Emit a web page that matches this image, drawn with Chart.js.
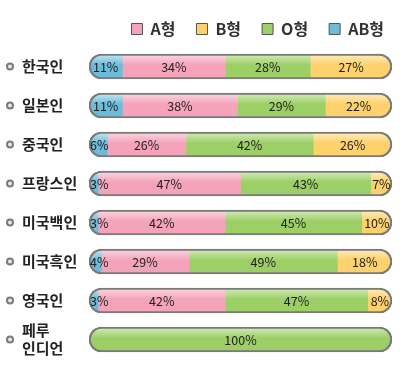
<!DOCTYPE html>
<html>
<head>
<meta charset="utf-8">
<script src="https://cdn.jsdelivr.net/npm/chart.js@4/dist/chart.umd.min.js"></script>
<style>
html, body { margin: 0; padding: 0; background: #fff; }
#wrap { width: 400px; height: 368px; }
</style>
</head>
<body>
<div id="wrap"><canvas id="myChart"></canvas></div>
<script>
var groups = ['한국인', '일본인', '중국인', '프랑스인', '미국백인', '미국흑인', '영국인', ['페루', '인디언']];
var typeAB = [11, 11, 6, 3, 3, 4, 3, 0];
var typeA = [34, 38, 26, 47, 42, 29, 42, 0];
var typeO = [28, 29, 42, 43, 45, 49, 47, 100];
var typeB = [27, 22, 26, 7, 10, 18, 8, 0];
var legendOrder = ['A형', 'B형', 'O형', 'AB형'];

var series = [typeAB, typeA, typeO, typeB];
var track = groups.map(function (g, i) {
    return typeAB[i] + typeA[i] + typeO[i] + typeB[i];
});
var KR = '"Noto Sans CJK KR", "Noto Sans", sans-serif';

// light top -> base colour, a bit of the old glossy look
function shade(base, light) {
    return function (c) {
        var y = c.chart.scales && c.chart.scales.y;
        if (c.type !== 'data' || !y) return base;
        var yc = y.getPixelForValue(c.dataIndex);
        var g = c.chart.ctx.createLinearGradient(0, yc - 12, 0, yc + 12);
        g.addColorStop(0, light);
        g.addColorStop(0.45, base);
        g.addColorStop(1, base);
        return g;
    };
}

function seg(label, data, base, light) {
    return {
        label: label,
        data: data,
        stack: 'seg',
        grouped: false,
        barThickness: 25,
        borderWidth: 0,
        backgroundColor: shade(base, light),
        legendColor: base
    };
}

// clip the segments to the pill shape of the track bars
var pillClip = {
    id: 'pillClip',
    beforeDatasetDraw: function (chart, args) {
        if (args.index > 3) return;
        var ctx = chart.ctx;
        ctx.save();
        ctx.beginPath();
        chart.getDatasetMeta(4).data.forEach(function (bar) {
            var h = bar.height;
            ctx.roundRect(bar.base, bar.y - h / 2, bar.x - bar.base, h, h / 2);
        });
        ctx.clip();
    },
    afterDatasetDraw: function (chart, args) {
        if (args.index > 3) return;
        chart.ctx.restore();
    }
};

var valueLabels = {
    id: 'valueLabels',
    afterDatasetsDraw: function (chart) {
        var ctx = chart.ctx;
        var trackMeta = chart.getDatasetMeta(4);
        ctx.save();
        ctx.font = '12.5px ' + KR;
        ctx.fillStyle = '#222';
        ctx.textAlign = 'center';
        ctx.textBaseline = 'middle';
        for (var s = 0; s < 4; s++) {
            chart.getDatasetMeta(s).data.forEach(function (bar, i) {
                var v = series[s][i];
                if (!v) return;
                var txt = v + '%';
                var w = ctx.measureText(txt).width;
                var t = trackMeta.data[i];
                var cx = (bar.x + bar.base) / 2;
                cx = Math.max(cx, t.base + w / 2 + 1);
                cx = Math.min(cx, t.x - w / 2 - 1);
                ctx.fillText(txt, cx, bar.y + 1);
            });
        }
        ctx.restore();
    }
};

var bullets = {
    id: 'bullets',
    afterDraw: function (chart) {
        var ctx = chart.ctx;
        var y = chart.scales.y;
        ctx.save();
        y.ticks.forEach(function (t, i) {
            var py = y.getPixelForTick(i);
            ctx.beginPath();
            ctx.arc(10, py, 3, 0, Math.PI * 2);
            ctx.fillStyle = '#e8e8e8';
            ctx.fill();
            ctx.lineWidth = 2;
            ctx.strokeStyle = '#7a7a7a';
            ctx.stroke();
        });
        ctx.restore();
    }
};

// legend keeps a trailing gap equal to the item padding; push it right a bit
var legendNudge = {
    id: 'legendNudge',
    afterLayout: function (chart) {
        chart.legend.left += 5;
        chart.legend.right += 5;
    }
};

var ctx = document.getElementById('myChart').getContext('2d');
var chart = new Chart(ctx, {
    type: 'bar',
    data: {
        labels: groups,
        datasets: [
            seg('AB형', typeAB, '#6bbbd9', '#c4e6f2'),
            seg('A형', typeA, '#f4a3ba', '#fbd6e1'),
            seg('O형', typeO, '#9ccf66', '#d2ebb8'),
            seg('B형', typeB, '#fdd16c', '#feecbc'),
            {
                label: 'track',
                data: track,
                stack: 'track',
                grouped: false,
                order: -1,
                barThickness: 25,
                backgroundColor: 'rgba(0,0,0,0)',
                borderColor: '#7a7a7a',
                borderWidth: 1.5,
                borderRadius: 13,
                borderSkipped: false
            }
        ]
    },
    options: {
        indexAxis: 'y',
        responsive: true,
        maintainAspectRatio: false,
        animation: false,
        layout: { padding: { left: 22, right: 0, top: 0, bottom: 6 } },
        scales: {
            x: { display: false, stacked: true, min: 0, max: 100 },
            y: {
                stacked: true,
                grid: { display: false },
                border: { display: false },
                ticks: {
                    crossAlign: 'far',
                    padding: 0,
                    color: '#222',
                    font: { family: KR, size: 15, weight: 'bold' }
                },
                afterFit: function (s) { s.width = 67; }
            },
            // empty right gutter so the legend can run past the bars
            yr: {
                type: 'category',
                axis: 'y',
                position: 'right',
                grid: { display: false },
                border: { display: false },
                ticks: { display: false },
                afterFit: function (s) { s.width = 8; }
            }
        },
        plugins: {
            tooltip: { enabled: false },
            legend: {
                position: 'top',
                align: 'end',
                labels: {
                    boxWidth: 11,
                    boxHeight: 11,
                    padding: 21,
                    color: '#333',
                    font: { family: KR, size: 16, weight: 'bold' },
                    generateLabels: function (chart) {
                        return chart.data.datasets.map(function (ds, i) {
                            return {
                                text: ds.label,
                                fillStyle: ds.legendColor,
                                strokeStyle: '#555',
                                lineWidth: 1,
                                hidden: false,
                                datasetIndex: i,
                                fontColor: '#333'
                            };
                        }).filter(function (it) {
                            return legendOrder.indexOf(it.text) >= 0;
                        }).sort(function (a, b) {
                            return legendOrder.indexOf(a.text) - legendOrder.indexOf(b.text);
                        });
                    }
                }
            }
        }
    },
    plugins: [pillClip, valueLabels, bullets, legendNudge]
});
</script>
</body>
</html>
